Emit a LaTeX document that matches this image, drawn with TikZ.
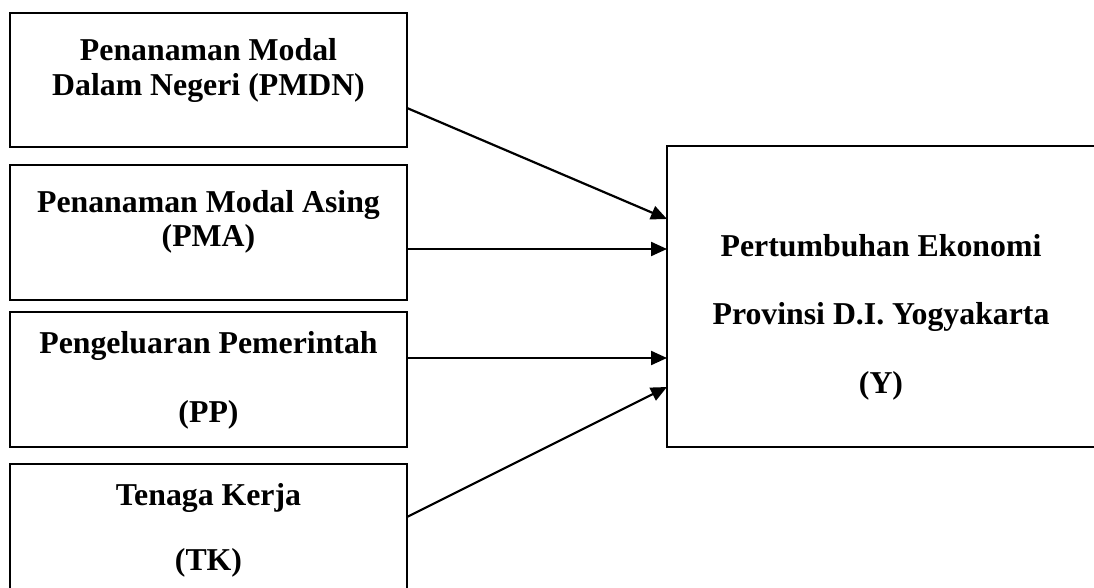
\documentclass[tikz,border=0pt]{standalone}
\usepackage{fontspec}
\setmainfont{Liberation Serif}
\usepackage{tikz}
\usetikzlibrary{arrows.meta}
\tikzstyle{kotak} = [draw, line width=2.2pt, outer sep=0pt, inner sep=0pt]
\tikzstyle{teks} = [align=center, anchor=base, inner sep=0pt, font=\fontsize{31.8}{35}\selectfont\bfseries]
\tikzstyle{panah} = [line width=2.2pt, -{Triangle[length=16pt,width=14pt]}]

\begin{document}
\begin{tikzpicture}[x=1pt,y=-1pt]
	\useasboundingbox (0,0) rectangle (1094,588);
	\clip (0,0) rectangle (1094,588);
	\node[kotak, minimum width=397pt, minimum height=134pt] (pmdn) at (208.5,80) {};
	\node[kotak, minimum width=397pt, minimum height=135pt] (pma) at (208.5,232.5) {};
	\node[kotak, minimum width=397pt, minimum height=135pt] (pp) at (208.5,379.5) {};
	\node[kotak, minimum width=397pt, minimum height=136pt] (tk) at (208.5,532) {};
	\node[kotak, minimum width=429pt, minimum height=301pt] (ekon) at (881.5,296.5) {};
	% anchor base = baris terakhir
	\node[teks] (tpmdn) at (208.5,96) {Penanaman Modal\\Dalam Negeri (PMDN)};
	\node[teks] (tpma) at (208.5,246) {Penanaman Modal Asing\\[-1pt](PMA)};
	\node[teks] (tpp) at (208.5,422) {Pengeluaran Pemerintah\\[34pt](PP)};
	\node[teks] (ttk) at (208.5,570) {Tenaga Kerja\\[30pt](TK)};
	\node[teks] (tekon) at (881,393) {Pertumbuhan Ekonomi\\[33pt]Provinsi D.I. Yogyakarta\\[34pt](Y)};
	\draw[panah] ([yshift=-28pt]pmdn.east) -- ([yshift=77.5pt]ekon.west);
	\draw[panah] ([yshift=-16.5pt]pma.east) -- ([yshift=47.5pt]ekon.west);
	\draw[panah] ([yshift=21.5pt]pp.east) -- ([yshift=-61.5pt]ekon.west);
	\draw[panah] ([yshift=15pt]tk.east) -- ([yshift=-90.5pt]ekon.west);
\end{tikzpicture}
\end{document}
